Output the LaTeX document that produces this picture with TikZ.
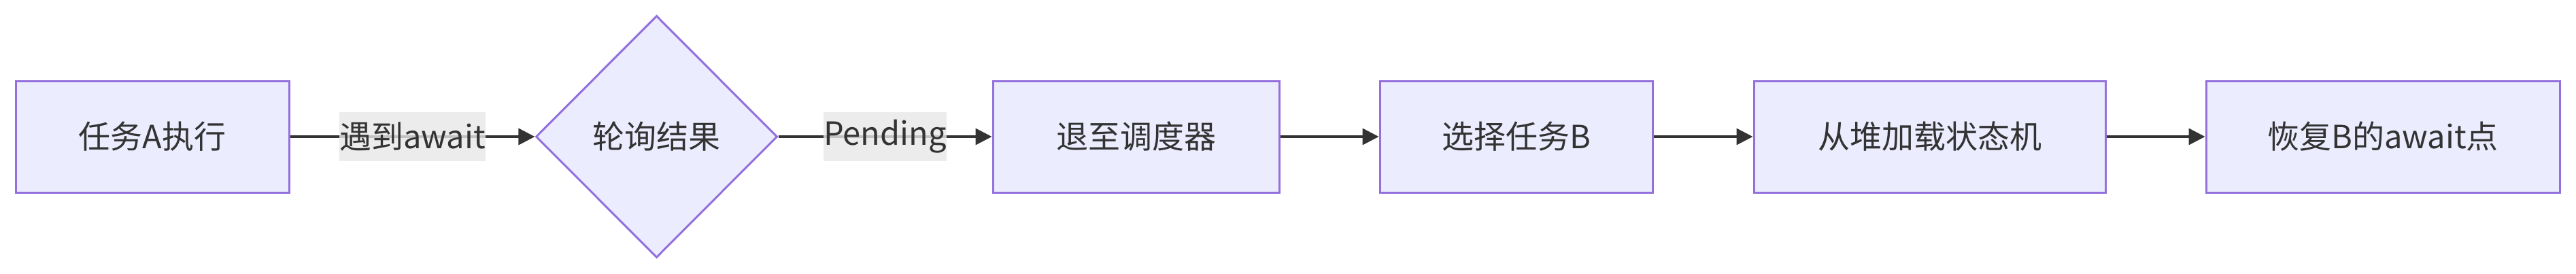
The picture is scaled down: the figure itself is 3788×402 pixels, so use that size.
\documentclass[tikz,border=0pt]{standalone}
\usepackage{fontspec}
\setmainfont{Noto Sans CJK SC}
\usepackage{xcolor}
\usetikzlibrary{shapes.geometric,arrows.meta}
\definecolor{node-fill}{HTML}{ECECFF}
\definecolor{node-line}{HTML}{9370DB}
\definecolor{edge-line}{HTML}{333333}
\definecolor{label-fill}{HTML}{E8E8E8}
\tikzset{
    flow-box/.style = {draw=node-line, fill=node-fill, line width=3pt, rectangle, minimum height=164pt, inner sep=0pt, text=edge-line, font=\fontsize{47}{56}\selectfont},
    flow-choice/.style = {flow-box, diamond, aspect=1, minimum width=355pt, minimum height=356pt},
    flow-label/.style = {fill=label-fill, fill opacity=0.8, text opacity=1, inner sep=0pt, minimum height=72pt, text=edge-line, font=\fontsize{47}{56}\selectfont},
    flow-arrow/.style = {draw=edge-line, line width=3.5pt, -{Triangle[length=24pt,width=24pt]}},
}

\begin{document}
\begin{tikzpicture}[x=1pt, y=1pt]
\fill[white] (0,0) rectangle (3788,-402);
\node[flow-box, minimum width=402pt] (taskA) at (224,-201) {任务A执行};
\node[flow-choice] (poll) at (965.5,-201) {轮询结果};
\node[flow-box, minimum width=421pt] (yield) at (1670.5,-201) {退至调度器};
\node[flow-box, minimum width=401pt] (pickB) at (2229.5,-201) {选择任务B};
\node[flow-box, minimum width=517pt] (load) at (2837.5,-201) {从堆加载状态机};
\node[flow-box, minimum width=520pt] (resume) at (3504,-201) {恢复B的await点};
\draw[flow-arrow] (taskA) -- node[flow-label] (hitAwait) {遇到await} (poll);
\draw[flow-arrow] (poll) -- node[flow-label] (pending) {Pending} (yield);
\draw[flow-arrow] (yield) -- (pickB);
\draw[flow-arrow] (pickB) -- (load);
\draw[flow-arrow] (load) -- (resume);
\end{tikzpicture}
\end{document}
